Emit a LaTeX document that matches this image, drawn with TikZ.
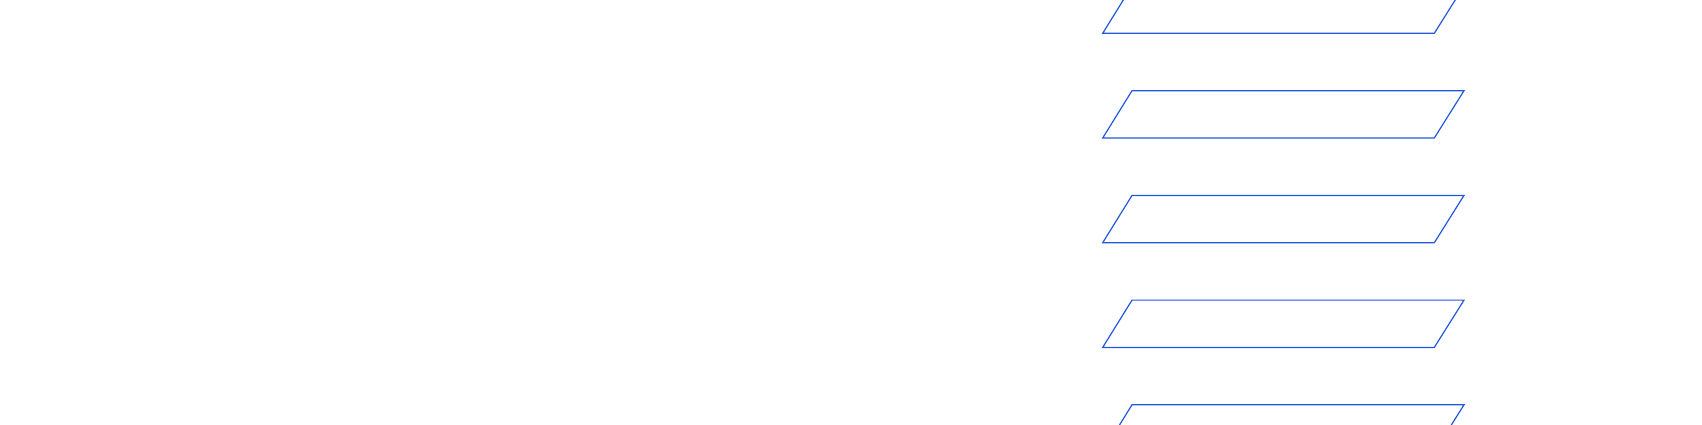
\documentclass[tikz,border=0pt]{standalone}
\usepackage{tikz}

\definecolor{slabblue}{HTML}{2258E0}
\tikzset{slab/.style={draw=slabblue, line width=1.2pt, line join=miter}}

\begin{document}
\begin{tikzpicture}[x=1pt, y=-1pt]
  \useasboundingbox (0,0) rectangle (1702,425);
  \clip (0,0) rectangle (1702,425);
  \foreach \row in {0,...,4} {
    \pgfmathsetmacro{\top}{-14+104.7*\row}
    \draw [slab] (1132,\top) -- (1464,\top) -- (1434.3,\top+47.3)
      -- (1102.7,\top+47.3) -- cycle;
  }
\end{tikzpicture}
\end{document}
